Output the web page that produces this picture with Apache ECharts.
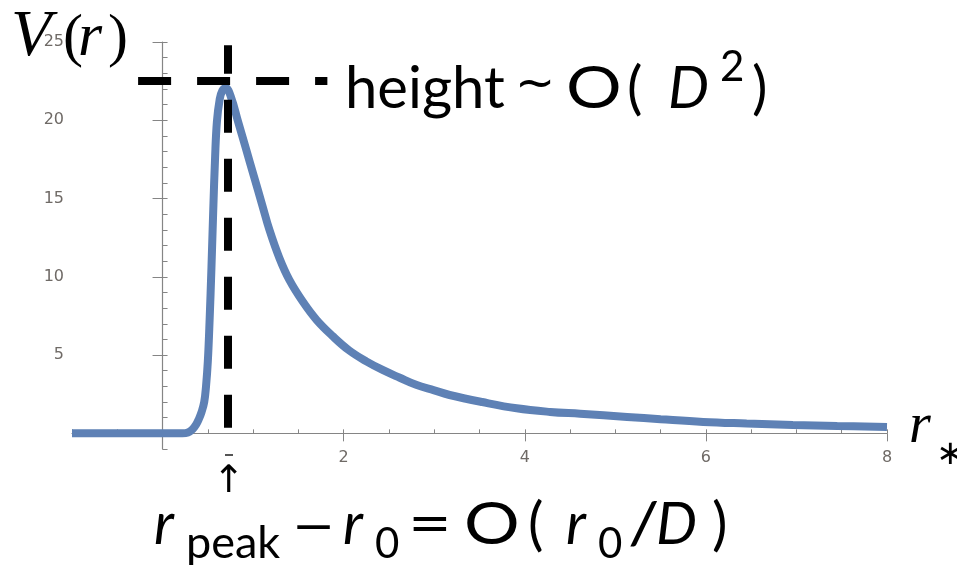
<!DOCTYPE html>
<html>
<head>
<meta charset="utf-8">
<script src="https://cdn.jsdelivr.net/npm/echarts@6/dist/echarts.min.js"></script>
<style>
  html, body { margin: 0; padding: 0; background: #fff; }
  #chart { width: 957px; height: 565px; }
</style>
</head>
<body>
<div id="chart"></div>
<script>
// Tortoise coordinate r* and the effective potential V(r) along it
const rStar = [-1, 0, 0.22, 0.28, 0.33, 0.37, 0.40, 0.43, 0.46, 0.48, 0.50, 0.52, 0.54, 0.56, 0.58, 0.60,
  0.63, 0.66, 0.70, 0.76, 0.83, 0.92, 1.01, 1.10, 1.18, 1.29, 1.40, 1.55, 1.70, 1.88, 2.06, 2.25, 2.43,
  2.62, 2.80, 3.00, 3.17, 3.53, 3.91, 4.28, 4.61, 5.13, 5.50, 5.97, 6.45, 6.96, 7.45, 8.0];
const potential = [0, 0, 0, 0.05, 0.25, 0.55, 0.9, 1.35, 2.0, 3.0, 4.6, 7.3, 10.6, 14.3, 17.6, 19.9,
  21.3, 21.9, 22.05, 21.4, 20.0, 18.2, 16.4, 14.6, 13.0, 11.2, 9.8, 8.4, 7.25, 6.2, 5.3, 4.6, 4.05,
  3.55, 3.1, 2.75, 2.45, 2.0, 1.6, 1.37, 1.25, 1.05, 0.9, 0.73, 0.63, 0.54, 0.47, 0.40];

// Axis ticks and labels
const xMajorTicks = [0, 2, 4, 6, 8];
const xTickLabels = [2, 4, 6, 8];
const yMajorTicks = [0, 5, 10, 15, 20, 25];
const yTickLabels = [5, 10, 15, 20, 25];

// Guide lines marking the barrier peak
const peakR = 0.72;
const peakLevel = 22.5;
const vGuide = [0.35, 24.8];      // vertical guide extent in V
const hGuide = [-0.27, 1.82];     // horizontal guide extent in r*

const AXIS_GRAY = '#858585';
const LABEL_GRAY = '#6f6a66';
const SANS = 'Lato, "Open Sans", sans-serif';
const SERIF = '"Liberation Serif", "DejaVu Serif", serif';
const DEJAVU = '"DejaVu Sans", sans-serif';

const points = rStar.map((r, i) => [r, potential[i]]);

// Text placed by its left edge and vertical middle, optionally stretched horizontally
function label(x, y, text, size, family, italic, stretch) {
  return {
    type: 'text', x: x, y: y, scaleX: stretch || 1, silent: true, z: 100,
    style: {
      text: text, fontSize: size, fontFamily: family,
      fontStyle: italic ? 'italic' : 'normal',
      fill: '#000', align: 'left', verticalAlign: 'middle'
    }
  };
}

const chart = echarts.init(document.getElementById('chart'), null, { renderer: 'canvas' });

const baseX = {
  type: 'value', min: -1, max: 8,
  splitLine: { show: false },
  axisLine: { onZero: true, lineStyle: { color: AXIS_GRAY, width: 1.2 } }
};
const baseY = {
  type: 'value', min: -1, max: 25,
  splitLine: { show: false },
  axisLine: { onZero: true, lineStyle: { color: AXIS_GRAY, width: 1.2 } }
};

chart.setOption({
  animation: false,
  backgroundColor: '#fff',
  grid: { left: 72, right: 70, top: 42, bottom: 116, containLabel: false },
  xAxis: [
    Object.assign({}, baseX, {
      interval: 0.5,
      axisTick: { inside: true, length: 4, lineStyle: { color: AXIS_GRAY } },
      axisLabel: {
        customValues: xTickLabels, margin: 1, color: LABEL_GRAY,
        fontSize: 16, fontFamily: DEJAVU
      }
    }),
    Object.assign({}, baseX, {
      axisLine: { onZero: true, show: false },
      axisTick: { inside: true, length: 8, customValues: xMajorTicks, lineStyle: { color: AXIS_GRAY } },
      axisLabel: { show: false }
    })
  ],
  yAxis: [
    Object.assign({}, baseY, {
      interval: 1,
      axisTick: { inside: true, length: 5, lineStyle: { color: AXIS_GRAY } },
      axisLabel: {
        customValues: yTickLabels, margin: 8, color: LABEL_GRAY,
        fontSize: 16, fontFamily: DEJAVU
      }
    }),
    Object.assign({}, baseY, {
      axisLine: { onZero: true, show: false },
      axisTick: { inside: true, length: 10, customValues: yMajorTicks, lineStyle: { color: AXIS_GRAY } },
      axisLabel: { show: false }
    })
  ],
  series: [{
    type: 'line',
    xAxisIndex: 0, yAxisIndex: 0,
    data: points,
    showSymbol: false,
    smooth: 0.4,
    clip: false,
    lineStyle: { color: '#5E81B5', width: 8 },
    markLine: {
      silent: true,
      symbol: ['none', 'none'],
      label: { show: false },
      lineStyle: { color: '#000', width: 8, type: [33, 26], cap: 'butt', opacity: 1 },
      emphasis: { disabled: true },
      data: [
        [{ coord: [peakR, vGuide[0]] }, { coord: [peakR, vGuide[1]] }],
        [{ coord: [hGuide[0], peakLevel] }, { coord: [hGuide[1], peakLevel] }]
      ]
    }
  }],
  graphic: [
    // V(r)
    label(11, 38, 'V', 66, SERIF, true),
    label(63, 39, '(', 60, SERIF, false),
    label(78, 39, 'r', 62, SERIF, true),
    label(108, 39, ')', 60, SERIF, false),
    // r*
    label(909, 427, 'r', 56, SERIF, true),
    label(936, 455, '∗', 34, DEJAVU, false),
    // height ~ O(D^2)
    label(345, 89, 'height', 58, SANS, false),
    label(515, 87, '~', 48, DEJAVU, false),
    label(566, 89, 'O', 58, SANS, false, 1.2),
    label(627, 89, '(', 58, SANS, false),
    label(668, 89, 'D', 58, SANS, true),
    label(720, 67, '2', 42, SANS, false),
    label(752, 89, ')', 58, SANS, false),
    // small mark and arrow under the peak position
    { type: 'rect', silent: true, shape: { x: 225, y: 454, width: 8, height: 2 }, style: { fill: '#555' } },
    { type: 'text', x: 229, y: 482, silent: true,
      style: { text: '↑', fontSize: 38, fontFamily: DEJAVU, fill: '#000', align: 'center', verticalAlign: 'middle' } },
    // r_peak - r_0 = O(r_0 / D)
    label(154, 525, 'r', 58, SANS, true),
    label(186, 543, 'peak', 45, SANS, false),
    label(290, 525, '–', 58, SANS, false, 1.4),
    label(343, 525, 'r', 58, SANS, true),
    label(375, 544, '0', 42, SANS, false),
    label(408, 525, '=', 58, SANS, false, 1.3),
    label(464, 525, 'O', 58, SANS, false, 1.2),
    label(528, 525, '(', 58, SANS, false),
    label(566, 525, 'r', 58, SANS, true),
    label(598, 544, '0', 42, SANS, false),
    label(628, 525, '/', 58, SANS, false, 1.2),
    label(656, 525, 'D', 58, SANS, true),
    label(712, 525, ')', 58, SANS, false)
  ]
});
</script>
</body>
</html>
